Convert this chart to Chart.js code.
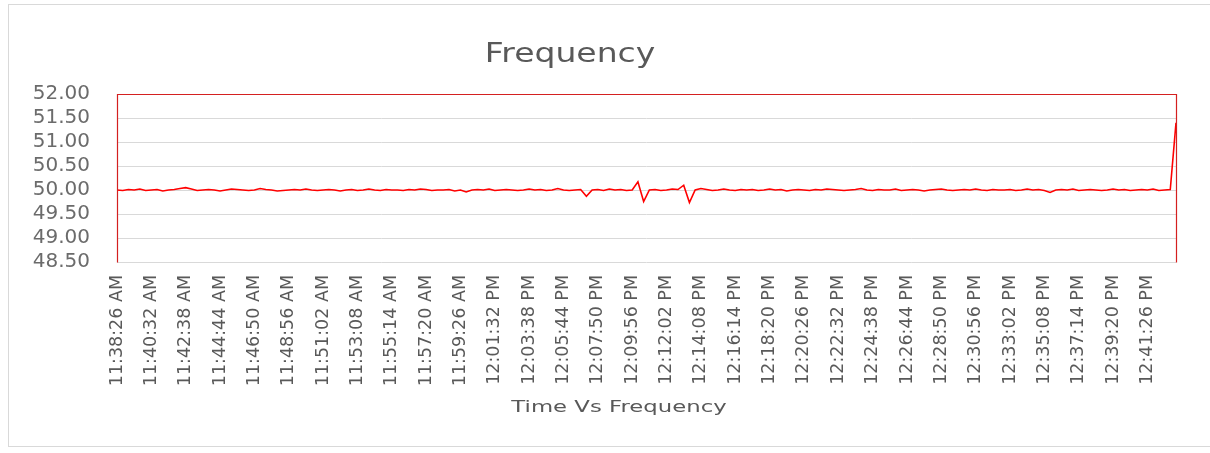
<!DOCTYPE html>
<html>
<head>
<meta charset="utf-8">
<script src="https://cdn.jsdelivr.net/npm/chart.js@4.4.1/dist/chart.umd.min.js"></script>
<style>
  html, body { margin: 0; padding: 0; background: #ffffff; overflow: hidden; }
  #wrap { position: relative; width: 1210px; height: 453px; }
  #frame { position: absolute; left: 8px; top: 4px; width: 1300px; height: 443px; border: 1px solid #d9d9d9; box-sizing: border-box; }
  #c { position: absolute; left: 0; top: 0; }
</style>
</head>
<body>
<div id="wrap">
  <div id="frame"></div>
  <canvas id="c" width="1210" height="453"></canvas>
</div>
<script>
// ---- data ----
const chartTitle = "Frequency";
const xAxisTitle = "Time Vs Frequency";

const tickLabels = [
  "11:38:26 AM", "11:40:32 AM", "11:42:38 AM", "11:44:44 AM", "11:46:50 AM", "11:48:56 AM",
  "11:51:02 AM", "11:53:08 AM", "11:55:14 AM", "11:57:20 AM", "11:59:26 AM", "12:01:32 PM",
  "12:03:38 PM", "12:05:44 PM", "12:07:50 PM", "12:09:56 PM", "12:12:02 PM", "12:14:08 PM",
  "12:16:14 PM", "12:18:20 PM", "12:20:26 PM", "12:22:32 PM", "12:24:38 PM", "12:26:44 PM",
  "12:28:50 PM", "12:30:56 PM", "12:33:02 PM", "12:35:08 PM", "12:37:14 PM", "12:39:20 PM",
  "12:41:26 PM"
];
const pointsPerTick = 6;

const frequency = [
  50.00, 49.99, 50.01, 50.00, 50.02, 49.99, 50.00, 50.01, 49.98, 50.00,
  50.01, 50.03, 50.05, 50.02, 49.99, 50.00, 50.01, 50.00, 49.98, 50.00,
  50.02, 50.01, 50.00, 49.99, 50.00, 50.03, 50.01, 50.00, 49.98, 49.99,
  50.00, 50.01, 50.00, 50.02, 50.00, 49.99, 50.00, 50.01, 50.00, 49.98,
  50.00, 50.01, 49.99, 50.00, 50.02, 50.00, 49.99, 50.01, 50.00, 50.00,
  49.99, 50.01, 50.00, 50.02, 50.01, 49.99, 50.00, 50.00, 50.01, 49.98,
  50.00, 49.96, 50.00, 50.01, 50.00, 50.02, 49.99, 50.00, 50.01, 50.00,
  49.99, 50.00, 50.02, 50.00, 50.01, 49.99, 50.00, 50.03, 50.00, 49.99,
  50.00, 50.01, 49.87, 50.00, 50.01, 49.99, 50.02, 50.00, 50.01, 49.99,
  50.00, 50.17, 49.76, 50.00, 50.01, 49.99, 50.00, 50.02, 50.01, 50.10,
  49.74, 50.00, 50.03, 50.01, 49.99, 50.00, 50.02, 50.00, 49.99, 50.01,
  50.00, 50.01, 49.99, 50.00, 50.02, 50.00, 50.01, 49.98, 50.00, 50.01,
  50.00, 49.99, 50.01, 50.00, 50.02, 50.01, 50.00, 49.99, 50.00, 50.01,
  50.03, 50.00, 49.99, 50.01, 50.00, 50.00, 50.02, 49.99, 50.00, 50.01,
  50.00, 49.98, 50.00, 50.01, 50.02, 50.00, 49.99, 50.00, 50.01, 50.00,
  50.02, 50.00, 49.99, 50.01, 50.00, 50.00, 50.01, 49.99, 50.00, 50.02,
  50.00, 50.01, 49.99, 49.95, 50.00, 50.01, 50.00, 50.02, 49.99, 50.00,
  50.01, 50.00, 49.99, 50.00, 50.02, 50.00, 50.01, 49.99, 50.00, 50.01,
  50.00, 50.02, 49.99, 50.00, 50.01, 51.40
];

const yMin = 48.5, yMax = 52.0, yStep = 0.5;

// categories: one per reading, labelled at each tick interval
const categories = frequency.map((v, i) =>
  (i % pointsPerTick === 0 && tickLabels[i / pointsPerTick] !== undefined) ? tickLabels[i / pointsPerTick] : ""
);

// ---- drawing helpers ----
const textGrey = "#595959";

const titlesAndFrame = {
  id: "titlesAndFrame",
  afterDraw(chart) {
    const ctx = chart.ctx;
    const a = chart.chartArea;
    // plot area frame (top, left, right)
    ctx.save();
    ctx.strokeStyle = "#d42020";
    ctx.lineWidth = 1.2;
    ctx.beginPath();
    ctx.moveTo(Math.round(a.left) + 0.5, Math.round(a.bottom) + 0.5);
    ctx.lineTo(Math.round(a.left) + 0.5, Math.round(a.top) + 0.5);
    ctx.lineTo(Math.round(a.right) + 0.5, Math.round(a.top) + 0.5);
    ctx.lineTo(Math.round(a.right) + 0.5, Math.round(a.bottom) + 0.5);
    ctx.stroke();
    ctx.restore();

    // chart title
    ctx.save();
    ctx.fillStyle = textGrey;
    ctx.font = "26px 'DejaVu Sans'";
    ctx.textAlign = "center";
    ctx.textBaseline = "alphabetic";
    ctx.translate(570, 62);
    ctx.scale(1.27, 1);
    ctx.fillText(chartTitle, 0, 0);
    ctx.restore();

    // x axis title
    ctx.save();
    ctx.fillStyle = textGrey;
    ctx.font = "16.5px 'DejaVu Sans'";
    ctx.textAlign = "center";
    ctx.textBaseline = "alphabetic";
    ctx.translate(619, 412);
    ctx.scale(1.38, 1);
    ctx.fillText(xAxisTitle, 0, 0);
    ctx.restore();
  }
};

new Chart(document.getElementById("c"), {
  type: "line",
  data: {
    labels: categories,
    datasets: [{
      label: "Frequency",
      data: frequency,
      borderColor: "#ff0000",
      borderWidth: 1.6,
      pointRadius: 0,
      tension: 0,
      fill: false
    }]
  },
  options: {
    responsive: false,
    animation: false,
    events: [],
    layout: { padding: { top: 94, right: 29, left: 0, bottom: 0 } },
    plugins: {
      legend: { display: false },
      title: { display: false },
      tooltip: { enabled: false }
    },
    scales: {
      x: {
        type: "category",
        offset: false,
        grid: { display: false, drawTicks: false },
        border: { display: false },
        ticks: {
          autoSkip: false,
          minRotation: 90,
          maxRotation: 90,
          padding: 13,
          color: textGrey,
          font: { family: "'DejaVu Sans'", size: 17.5 }
        },
        afterFit(scale) { scale.height = 191; }
      },
      y: {
        min: yMin,
        max: yMax,
        grid: {
          drawTicks: false,
          color: (ctx) => (ctx.tick && ctx.tick.value === yMax) ? "rgba(0,0,0,0)" : "#d9d9d9",
          lineWidth: 1
        },
        border: { display: false },
        ticks: {
          autoSkip: false,
          stepSize: yStep,
          padding: 27,
          color: "#6b6b6b",
          font: { family: "'DejaVu Sans'", size: 20 },
          callback: (v) => Number(v).toFixed(2)
        },
        afterFit(scale) { scale.width = 117; }
      }
    }
  },
  plugins: [titlesAndFrame]
});
</script>
</body>
</html>
